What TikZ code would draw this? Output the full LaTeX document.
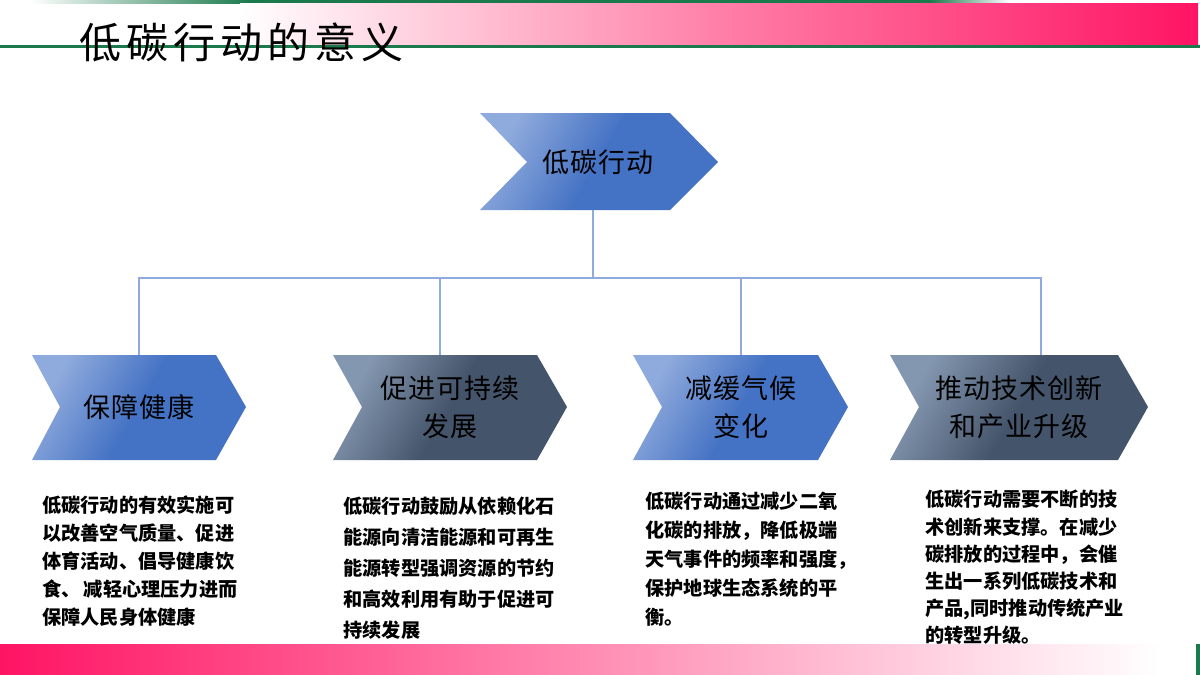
\documentclass[tikz,border=0pt]{standalone}
\usepackage{fontspec}
\newfontfamily\cjk{Noto Sans CJK SC}
\newfontfamily\cjktitle[LetterSpace=12]{Noto Sans CJK SC}
\newfontfamily\cjklab[LetterSpace=4]{Noto Sans CJK SC}
\definecolor{gline}{HTML}{1B7A4C}
\definecolor{pinkD}{HTML}{FF1464}
\definecolor{pinkM}{HTML}{FF7FA8}
\definecolor{bLight}{HTML}{8FAADC}
\definecolor{bDark}{HTML}{4472C4}
\definecolor{sLight}{HTML}{8497B0}
\definecolor{sDark}{HTML}{44546A}
\definecolor{conn}{HTML}{8FAADC}
\tikzset{
  chevblue/.style={left color=bLight, right color=bDark, middle color=bDark, shading angle=60},
  chevslate/.style={left color=sLight, right color=sDark, middle color=sDark, shading angle=60},
  chevlabel/.style={font=\cjklab\fontsize{13.5}{19}\selectfont, align=center, text=black, inner sep=0pt},
  bodytext/.style={font=\cjk\bfseries\fontsize{9.6}{14.5}\selectfont, align=left, text=black, inner sep=0pt, anchor=north west},
  connline/.style={draw=conn, line width=0.8pt}
}
\begin{document}
\begin{tikzpicture}[x=0.5pt,y=-0.5pt]
\useasboundingbox (0,0) rectangle (1200,675);
% top decoration
\shade[left color=white, right color=gline] (30,0) rectangle (250,3);
\fill[gline] (250,0) rectangle (930,3);
\shade[left color=gline, right color=white] (930,0) rectangle (1010,3);
\shade[left color=white, right color=pinkD, middle color=pinkM] (240,3) rectangle (1198,45);
\fill[gline] (0,45) rectangle (1200,48);
\node[anchor=west, inner sep=0pt, font=\cjktitle\fontsize{21}{25}\selectfont] (title) at (79,42) {低碳行动的意义};
% bottom decoration
\shade[left color=pinkD, right color=white] (0,644) rectangle (1160,675);
\fill[gline] (1196,644) rectangle (1200,675);
% top chevron
\shade[chevblue] (480,113) -- (670,113) -- (718,162) -- (670,210) -- (480,210) -- (527,162) -- cycle;
\node[chevlabel] (root) at (598,162) {低碳行动};
% lower chevrons
\shade[chevblue]  (32,355) -- (216,355) -- (246,407) -- (216,460) -- (32,460) -- (60,407) -- cycle;
\shade[chevslate] (333,355) -- (537,355) -- (567,407) -- (537,460) -- (333,460) -- (362,407) -- cycle;
\shade[chevblue]  (633,355) -- (818,355) -- (848,407) -- (818,460) -- (633,460) -- (662,407) -- cycle;
\shade[chevslate] (890,355) -- (1118,355) -- (1148,407) -- (1118,460) -- (890,460) -- (919,407) -- cycle;
\node[chevlabel] (h1) at (139,407) {保障健康};
\node[chevlabel] (h2) at (450,407) {促进可持续\\发展};
\node[chevlabel] (h3) at (741,407) {减缓气候\\变化};
\node[chevlabel] (h4) at (1019,407) {推动技术创新\\和产业升级};
% connectors
\coordinate (p0) at (593,210);
\coordinate (jn) at (593,278);
\coordinate (c1) at (139,355);
\coordinate (c2) at (440,355);
\coordinate (c3) at (741,355);
\coordinate (c4) at (1041,355);
\draw[connline] (p0) -- (jn);
\draw[connline] (jn) -| (c1);
\draw[connline] (jn) -| (c2);
\draw[connline] (jn) -| (c3);
\draw[connline] (jn) -| (c4);
% body texts
\node[bodytext, font=\cjk\bfseries\fontsize{9.6}{14}\selectfont] (t1) at (42,495) {低碳行动的有效实施可\\以改善空气质量、促进\\体育活动、倡导健康饮\\食、\,减轻心理压力进而\\保障人民身体健康};
\node[bodytext, font=\cjk\bfseries\fontsize{9.6}{15.5}\selectfont] (t2) at (343,497) {低碳行动鼓励从依赖化石\\能源向清洁能源和可再生\\能源转型强调资源的节约\\和高效利用有助于促进可\\持续发展};
\node[bodytext, font=\cjk\bfseries\fontsize{9.6}{14.5}\selectfont] (t3) at (645,492) {低碳行动通过减少二氧\\化碳的排放，降低极端\\天气事件的频率和强度，\\保护地球生态系统的平\\衡。};
\node[bodytext, font=\cjk\bfseries\fontsize{9.6}{13.6}\selectfont] (t4) at (925,490) {低碳行动需要不断的技\\术创新来支撑。在减少\\碳排放的过程中，会催\\生出一系列低碳技术和\\产品,同时推动传统产业\\的转型升级。};
\end{tikzpicture}
\end{document}
